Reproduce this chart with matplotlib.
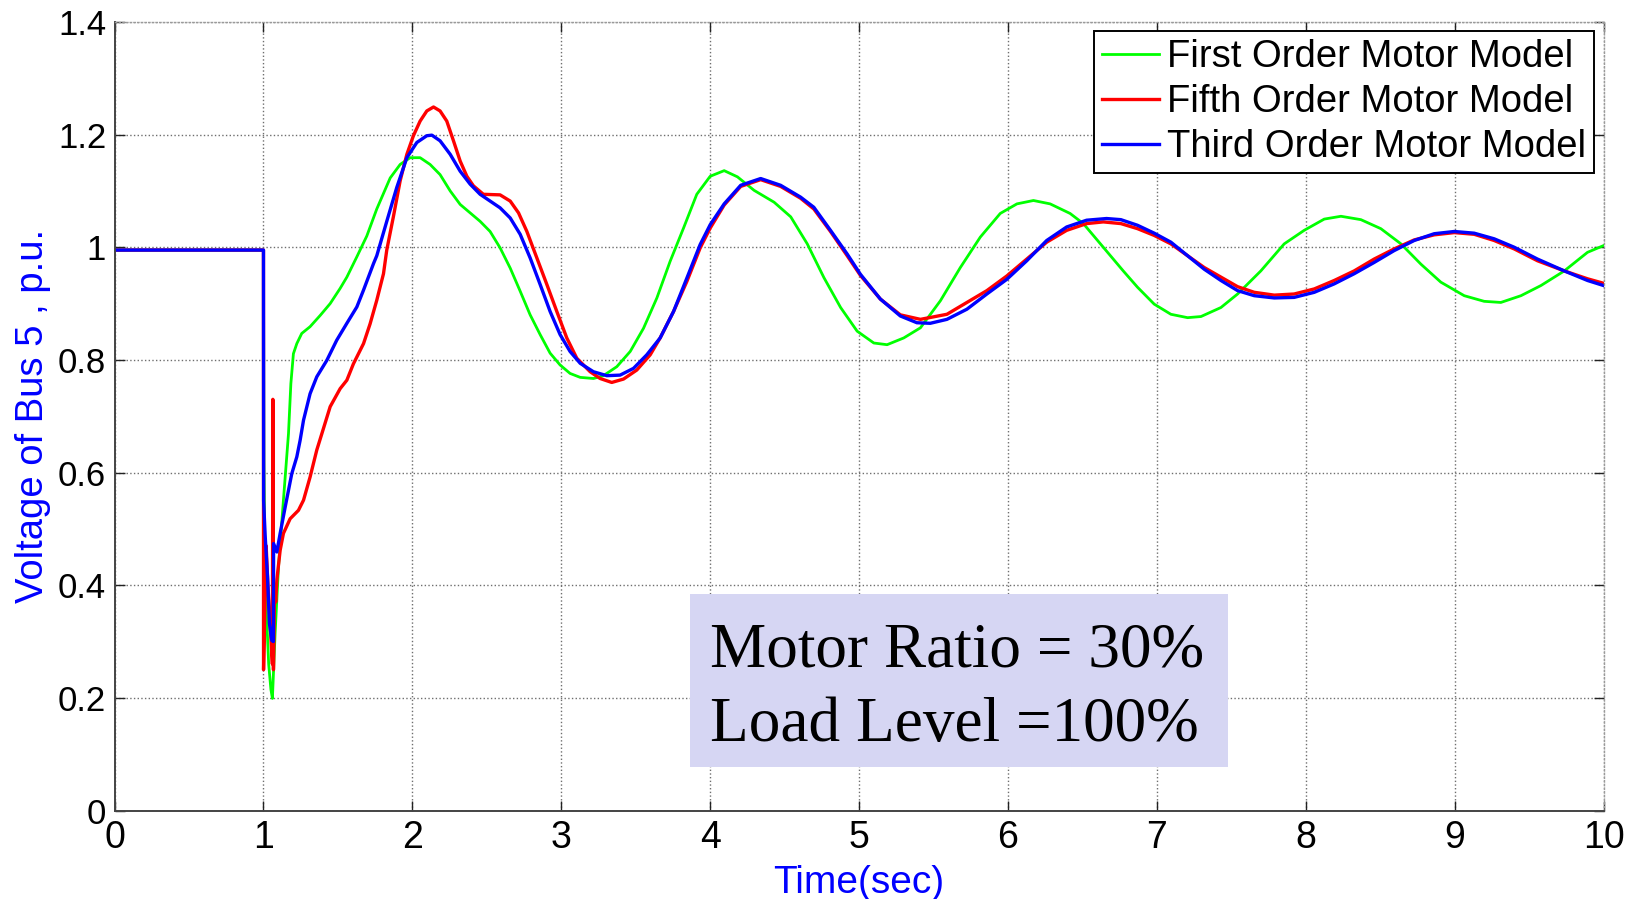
import matplotlib
matplotlib.use("Agg")
import matplotlib.pyplot as plt
from matplotlib.patches import Rectangle

# Bus 5 voltage after the fault at t = 1 s, three induction motor models
t_first = [0, 1.0, 1.003, 1.01, 1.02, 1.035, 1.05, 1.06, 1.078, 1.101, 1.134, 1.168, 1.184,
           1.201, 1.224, 1.257, 1.313, 1.381, 1.448, 1.515, 1.560, 1.627, 1.694, 1.761,
           1.851, 1.918, 1.985, 2.052, 2.119, 2.186, 2.254, 2.321, 2.388, 2.455, 2.522,
           2.589, 2.657, 2.724, 2.791, 2.858, 2.925, 2.992, 3.059, 3.127, 3.216, 3.283,
           3.373, 3.463, 3.552, 3.642, 3.731, 3.821, 3.910, 4.0, 4.094, 4.183, 4.295,
           4.429, 4.541, 4.652, 4.764, 4.876, 4.987, 5.099, 5.188, 5.300, 5.412, 5.546,
           5.680, 5.814, 5.948, 6.060, 6.171, 6.283, 6.417, 6.506, 6.640, 6.774, 6.870,
           6.982, 7.094, 7.206, 7.296, 7.430, 7.542, 7.698, 7.855, 7.989, 8.124, 8.236,
           8.370, 8.504, 8.639, 8.773, 8.907, 9.064, 9.198, 9.310, 9.445, 9.579, 9.736,
           9.892, 10.0]
v_first = [0.995, 0.995, 0.62, 0.45, 0.35, 0.26, 0.215, 0.199, 0.314, 0.433, 0.551, 0.669, 0.758,
           0.811, 0.829, 0.847, 0.859, 0.879, 0.900, 0.927, 0.947, 0.983, 1.020, 1.068,
           1.123, 1.147, 1.159, 1.159, 1.147, 1.129, 1.100, 1.076, 1.061, 1.046, 1.028,
           0.999, 0.963, 0.922, 0.880, 0.845, 0.812, 0.791, 0.776, 0.769, 0.767, 0.772,
           0.788, 0.815, 0.856, 0.910, 0.975, 1.034, 1.094, 1.126, 1.136, 1.125, 1.101,
           1.080, 1.054, 1.006, 0.946, 0.893, 0.851, 0.830, 0.827, 0.839, 0.857, 0.905,
           0.964, 1.018, 1.060, 1.077, 1.083, 1.077, 1.060, 1.042, 1.000, 0.958, 0.929,
           0.899, 0.881, 0.875, 0.877, 0.893, 0.917, 0.958, 1.006, 1.030, 1.050, 1.055,
           1.049, 1.033, 1.006, 0.970, 0.938, 0.914, 0.904, 0.902, 0.914, 0.932, 0.958,
           0.991, 1.003]

t_fifth = [0, 1.0, 1.0005, 1.018, 1.03, 1.045, 1.06, 1.063, 1.067, 1.075, 1.082, 1.090, 1.112,
           1.134, 1.179, 1.235, 1.269, 1.313, 1.358, 1.392, 1.448, 1.515, 1.560, 1.604,
           1.672, 1.716, 1.761, 1.806, 1.828, 1.873, 1.918, 1.963, 2.007, 2.052, 2.097,
           2.142, 2.186, 2.231, 2.276, 2.321, 2.366, 2.410, 2.477, 2.589, 2.657, 2.713,
           2.769, 2.836, 2.903, 2.970, 3.037, 3.104, 3.194, 3.261, 3.339, 3.418, 3.507,
           3.597, 3.664, 3.754, 3.843, 3.933, 4.0, 4.094, 4.205, 4.339, 4.473, 4.607,
           4.696, 4.808, 4.920, 5.009, 5.143, 5.277, 5.412, 5.590, 5.724, 5.858, 5.992,
           6.126, 6.260, 6.394, 6.528, 6.640, 6.758, 6.870, 6.982, 7.094, 7.206, 7.318,
           7.430, 7.542, 7.654, 7.788, 7.922, 8.057, 8.191, 8.325, 8.459, 8.593, 8.728,
           8.862, 8.997, 9.131, 9.265, 9.400, 9.556, 9.736, 9.892, 10.0]
v_fifth = [0.995, 0.995, 0.25, 0.47, 0.40, 0.33, 0.26, 0.73, 0.25, 0.40, 0.37, 0.41, 0.462,
           0.492, 0.518, 0.533, 0.551, 0.592, 0.640, 0.669, 0.717, 0.749, 0.764, 0.793,
           0.829, 0.864, 0.906, 0.953, 0.995, 1.055, 1.118, 1.165, 1.198, 1.224, 1.242,
           1.249, 1.242, 1.224, 1.189, 1.153, 1.126, 1.109, 1.094, 1.093, 1.082, 1.061,
           1.028, 0.981, 0.934, 0.886, 0.839, 0.803, 0.779, 0.767, 0.760, 0.766, 0.782,
           0.809, 0.839, 0.886, 0.939, 0.999, 1.034, 1.075, 1.108, 1.120, 1.108, 1.087,
           1.068, 1.028, 0.985, 0.950, 0.908, 0.880, 0.872, 0.881, 0.902, 0.923, 0.949,
           0.979, 1.009, 1.030, 1.042, 1.045, 1.042, 1.033, 1.021, 1.006, 0.985, 0.964,
           0.947, 0.930, 0.920, 0.915, 0.917, 0.926, 0.941, 0.958, 0.979, 0.997, 1.013,
           1.022, 1.026, 1.023, 1.012, 0.997, 0.976, 0.958, 0.944, 0.936]

t_third = [0, 1.0, 1.001, 1.011, 1.027, 1.040, 1.056, 1.066, 1.068, 1.090, 1.112, 1.146, 1.190,
           1.224, 1.246, 1.269, 1.313, 1.358, 1.425, 1.492, 1.560, 1.627, 1.672, 1.739,
           1.761, 1.828, 1.895, 1.963, 2.030, 2.097, 2.131, 2.186, 2.254, 2.321, 2.388,
           2.455, 2.522, 2.589, 2.657, 2.724, 2.791, 2.858, 2.925, 2.992, 3.059, 3.127,
           3.216, 3.306, 3.395, 3.485, 3.574, 3.664, 3.754, 3.843, 3.933, 4.0, 4.094,
           4.205, 4.339, 4.473, 4.607, 4.696, 4.808, 4.920, 5.009, 5.143, 5.277, 5.388,
           5.478, 5.590, 5.724, 5.858, 5.992, 6.126, 6.260, 6.394, 6.528, 6.662, 6.758,
           6.870, 6.982, 7.094, 7.206, 7.318, 7.430, 7.542, 7.654, 7.788, 7.922, 8.057,
           8.191, 8.325, 8.459, 8.593, 8.728, 8.862, 8.997, 9.131, 9.265, 9.400, 9.556,
           9.736, 9.892, 10.0]
v_third = [0.995, 0.995, 0.55, 0.49, 0.415, 0.332, 0.302, 0.30, 0.474, 0.459, 0.492, 0.539, 0.598,
           0.628, 0.657, 0.693, 0.740, 0.770, 0.799, 0.835, 0.865, 0.894, 0.924, 0.971,
           0.985, 1.046, 1.106, 1.159, 1.186, 1.198, 1.199, 1.189, 1.165, 1.135, 1.112,
           1.094, 1.082, 1.070, 1.052, 1.023, 0.981, 0.934, 0.886, 0.845, 0.815, 0.794,
           0.779, 0.772, 0.773, 0.785, 0.809, 0.839, 0.886, 0.945, 1.005, 1.040, 1.077,
           1.110, 1.122, 1.110, 1.089, 1.071, 1.030, 0.988, 0.952, 0.908, 0.878, 0.866,
           0.865, 0.872, 0.890, 0.917, 0.943, 0.976, 1.012, 1.036, 1.048, 1.051, 1.049,
           1.039, 1.025, 1.009, 0.985, 0.961, 0.941, 0.923, 0.914, 0.910, 0.911, 0.920,
           0.935, 0.953, 0.973, 0.994, 1.012, 1.024, 1.028, 1.025, 1.015, 1.000, 0.979,
           0.958, 0.941, 0.932]

x_ticks = [0, 1, 2, 3, 4, 5, 6, 7, 8, 9, 10]
y_ticks = [0, 0.2, 0.4, 0.6, 0.8, 1.0, 1.2, 1.4]
y_tick_labels = ["0", "0.2", "0.4", "0.6", "0.8", "1", "1.2", "1.4"]

note_lines = ["Motor Ratio = 30%", "Load Level =100%"]

fig = plt.figure(figsize=(16.32, 8.99), dpi=100)
ax = fig.add_axes([0.0702, 0.0984, 0.9124, 0.8772])

ax.plot(t_first, v_first, color="#00ff00", lw=2.0, label="First Order Motor Model")
ax.plot(t_fifth, v_fifth, color="#ff0000", lw=2.4, label="Fifth Order Motor Model")
ax.plot(t_third, v_third, color="#0000ff", lw=2.4, label="Third Order Motor Model")

ax.set_xlim(0, 10)
ax.set_ylim(0, 1.4)
ax.set_xticks(x_ticks)
ax.set_yticks(y_ticks)
ax.set_yticklabels(y_tick_labels)
ax.grid(True, color="#6e6e6e", linestyle=":", linewidth=1.0)
ax.set_axisbelow(True)

ax.tick_params(direction="in", length=7, width=1.0, top=True, right=True, color="#222222")
ax.tick_params(axis="y", pad=6)
ax.tick_params(axis="x", pad=7)
for lab in ax.get_yticklabels():
    lab.set_fontfamily("Liberation Sans")
    lab.set_fontsize(25)
for lab in ax.get_xticklabels():
    lab.set_fontfamily("Liberation Sans")
    lab.set_fontsize(27)

for side in ["left", "bottom"]:
    ax.spines[side].set_color("#444444")
    ax.spines[side].set_linewidth(1.4)
for side in ["top", "right"]:
    ax.spines[side].set_color("#9a9a9a")
    ax.spines[side].set_linewidth(1.0)
    ax.spines[side].set_linestyle(":")

ax.set_ylabel("Voltage of Bus 5 , p.u.", color="#0000ff", fontsize=27.5,
              family="Liberation Sans")
ax.yaxis.set_label_coords(-0.043, 0.5)
ax.set_xlabel("Time(sec)", color="#0000ff", fontsize=28, family="Liberation Sans")
ax.xaxis.set_label_coords(0.5, -0.069)

leg = ax.legend(loc="upper right", prop={"family": "Liberation Sans", "size": 27.5},
                frameon=True, fancybox=False, framealpha=1, edgecolor="black",
                borderaxespad=0.25, borderpad=0.2, labelspacing=0.24,
                handlelength=1.5, handletextpad=0.22)
leg.get_frame().set_linewidth(1.4)

# annotation panel with the case parameters
ax.add_patch(Rectangle((3.865, 0.077), 3.613, 0.307, facecolor="#d6d6f3",
                       edgecolor="none", zorder=4))
ax.text(4.0, 0.2565, note_lines[0], family="Liberation Serif", fontsize=45.5,
        ha="left", va="baseline", zorder=5)
ax.text(4.0, 0.1234, note_lines[1], family="Liberation Serif", fontsize=45.5,
        ha="left", va="baseline", zorder=5)

fig.savefig("out.png", dpi=100)
